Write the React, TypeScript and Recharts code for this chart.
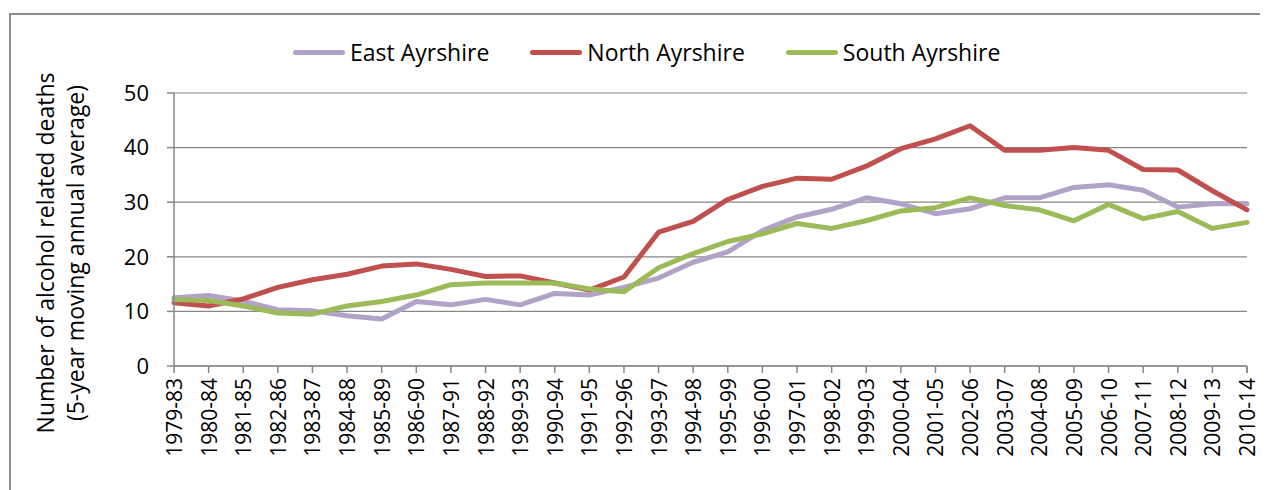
import React from "react";
import { ComposedChart, Line, XAxis, YAxis, CartesianGrid, Legend } from "recharts";

const categories = [
  "1979-83", "1980-84", "1981-85", "1982-86", "1983-87", "1984-88", "1985-89", "1986-90",
  "1987-91", "1988-92", "1989-93", "1990-94", "1991-95", "1992-96", "1993-97", "1994-98",
  "1995-99", "1996-00", "1997-01", "1998-02", "1999-03", "2000-04", "2001-05", "2002-06",
  "2003-07", "2004-08", "2005-09", "2006-10", "2007-11", "2008-12", "2009-13", "2010-14",
];

const eastAyrshire = [
  12.5, 12.9, 11.9, 10.3, 10.1, 9.2, 8.6, 11.8, 11.2, 12.2, 11.2, 13.3, 13.0, 14.4, 16.1, 19.0,
  20.9, 24.8, 27.3, 28.7, 30.8, 29.7, 27.9, 28.8, 30.8, 30.8, 32.7, 33.2, 32.2, 29.1, 29.7, 29.7,
];
const northAyrshire = [
  11.6, 11.0, 12.3, 14.4, 15.8, 16.8, 18.3, 18.7, 17.7, 16.4, 16.5, 15.2, 13.9, 16.3, 24.5, 26.5,
  30.5, 32.9, 34.4, 34.2, 36.6, 39.8, 41.6, 44.0, 39.5, 39.5, 40.0, 39.5, 36.0, 35.9, 32.1, 28.6,
];
const southAyrshire = [
  12.2, 12.0, 11.0, 9.7, 9.5, 11.0, 11.8, 13.0, 14.9, 15.2, 15.2, 15.2, 14.1, 13.6, 18.0, 20.6,
  22.8, 24.2, 26.1, 25.2, 26.6, 28.4, 29.0, 30.8, 29.4, 28.6, 26.6, 29.6, 27.0, 28.3, 25.2, 26.3,
];

const yTicks = [0, 10, 20, 30, 40, 50];

const data = categories.map((c, i) => ({
  period: c,
  east: eastAyrshire[i],
  north: northAyrshire[i],
  south: southAyrshire[i],
}));

const FONT = "'Open Sans', sans-serif";
const AXIS_GREY = "#868686";

const XTick = (props: any) => {
  const { x, y, payload, index, visibleTicksCount } = props;
  const off = payload && payload.offset ? payload.offset : 0;
  const isLast = index === visibleTicksCount - 1;
  return (
    <g>
      <line x1={x - off} y1={y} x2={x - off} y2={y + 7} stroke={AXIS_GREY} strokeWidth={1.5} />
      {isLast && (
        <line x1={x + off} y1={y} x2={x + off} y2={y + 7} stroke={AXIS_GREY} strokeWidth={1.5} />
      )}
      <text
        x={x}
        y={y + 12}
        transform={`rotate(-90, ${x}, ${y + 12})`}
        textAnchor="end"
        dominantBaseline="central"
        fontFamily={FONT}
        fontSize={21}
        fill="#000"
      >
        {payload.value}
      </text>
    </g>
  );
};

const YLabel = () => (
  <g fontFamily={FONT} fontSize={23} fill="#000">
    <text
      x={37}
      y={245}
      transform="rotate(-90, 37, 245)"
      textAnchor="middle"
      dominantBaseline="central"
    >
      Number of alcohol related deaths
    </text>
    <text
      x={67}
      y={245}
      transform="rotate(-90, 67, 245)"
      textAnchor="middle"
      dominantBaseline="central"
    >
      (5-year moving annual average)
    </text>
  </g>
);

const LegendContent = (props: any) => {
  const { payload } = props;
  return (
    <div style={{ display: "flex", alignItems: "center", fontFamily: FONT, fontSize: 23, color: "#000" }}>
      {(payload || []).map((entry: any, i: number) => (
        <div key={i} style={{ display: "flex", alignItems: "center", marginRight: 41 }}>
          <span
            style={{
              display: "inline-block",
              width: 52,
              height: 5,
              borderRadius: 3,
              background: entry.color,
              marginRight: 5,
            }}
          />
          <span style={{ lineHeight: "30px", whiteSpace: "nowrap" }}>{entry.value}</span>
        </div>
      ))}
    </div>
  );
};

export default function App() {
  return (
    <div style={{ position: "relative", width: 1260, height: 482, overflow: "hidden", background: "#fff" }}>
      <div
        style={{
          position: "absolute",
          left: 1,
          top: 5,
          width: 1400,
          height: 700,
          border: "2px solid #8c8c8c",
          boxSizing: "border-box",
        }}
      />
      <ComposedChart
        width={1260}
        height={482}
        data={data}
        margin={{ top: 85, right: 21, bottom: 0, left: 0 }}
        style={{ position: "absolute", left: 0, top: 0 }}
      >
        <CartesianGrid vertical={false} stroke={AXIS_GREY} strokeWidth={1.2} />
        <XAxis
          dataKey="period"
          interval={0}
          height={124}
          tickSize={0}
          tickMargin={0}
          tickLine={false}
          axisLine={{ stroke: AXIS_GREY, strokeWidth: 1.5 }}
          tick={(p: any) => <XTick {...p} />}
        />
        <YAxis
          width={166}
          domain={[0, 50]}
          ticks={yTicks}
          interval={0}
          tickSize={7}
          tickMargin={18}
          axisLine={{ stroke: AXIS_GREY, strokeWidth: 1.5 }}
          tickLine={{ stroke: AXIS_GREY, strokeWidth: 1.5 }}
          tick={{ fontFamily: FONT, fontSize: 22, fill: "#000" }}
          label={{ content: () => <YLabel /> }}
        />
        <Legend
          layout="horizontal"
          verticalAlign="middle"
          align="center"
          content={(p: any) => <LegendContent {...p} />}
          wrapperStyle={{ position: "absolute", left: 285, top: 29, width: 900, height: 30 }}
        />
        <Line
          type="linear"
          dataKey="east"
          name="East Ayrshire"
          stroke="#B3A2C7"
          strokeWidth={5}
          dot={false}
          strokeLinejoin="round"
          strokeLinecap="round"
          isAnimationActive={false}
        />
        <Line
          type="linear"
          dataKey="north"
          name="North Ayrshire"
          stroke="#C0504D"
          strokeWidth={5}
          dot={false}
          strokeLinejoin="round"
          strokeLinecap="round"
          isAnimationActive={false}
        />
        <Line
          type="linear"
          dataKey="south"
          name="South Ayrshire"
          stroke="#9BBB59"
          strokeWidth={5}
          dot={false}
          strokeLinejoin="round"
          strokeLinecap="round"
          isAnimationActive={false}
        />
      </ComposedChart>
    </div>
  );
}
